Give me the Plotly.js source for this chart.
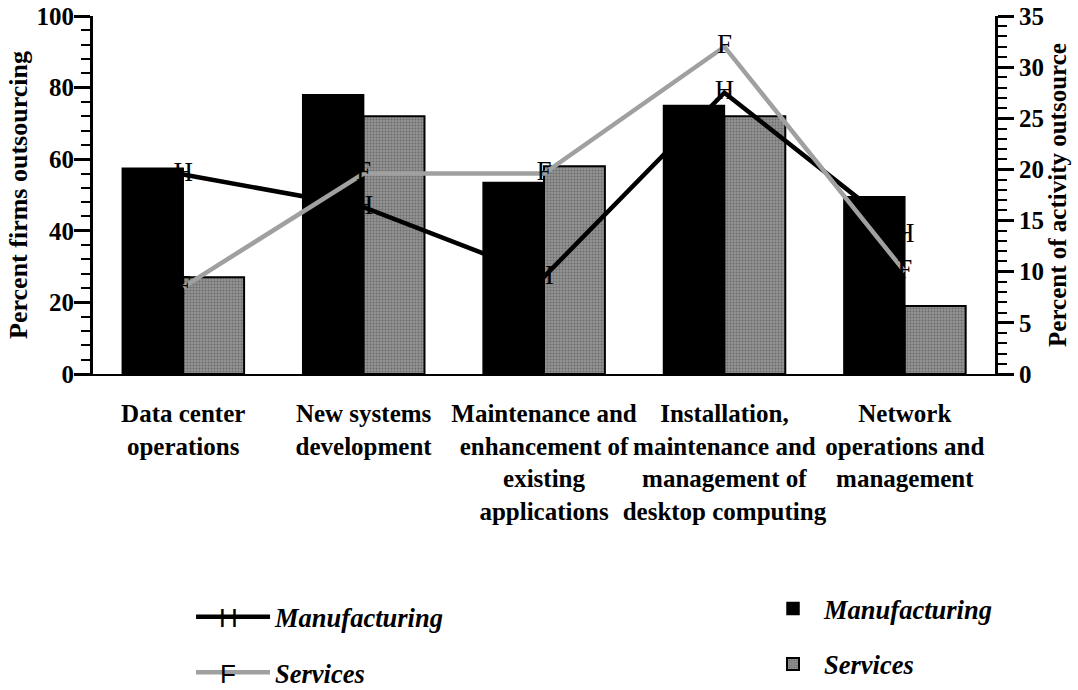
<!DOCTYPE html>
<html>
<head>
<meta charset="utf-8">
<script src="https://cdn.plot.ly/plotly-3.0.1.min.js"></script>
<style>html,body{margin:0;padding:0;background:#fff;}#chart{width:1078px;height:690px;}</style>
</head>
<body>
<div id="chart"></div>
<script>
const categories = [
  "Data center<br>operations",
  "New systems<br>development",
  "Maintenance and<br>enhancement of<br>existing<br>applications",
  "Installation,<br>maintenance and<br>management of<br>desktop computing",
  "Network<br>operations and<br>management"
];
// Percent firms outsourcing (left axis, bars)
const barManufacturing = [57.5, 78, 53.5, 75, 49.5];
const barServices = [27, 72, 58, 72, 19];
// Percent of activity outsourced (right axis, lines)
const lineManufacturing = [19.5, 16.3, 9.5, 27.5, 13.6];
const lineServices = [8.5, 19.6, 19.6, 32, 10];
const seriesNames = ["Manufacturing", "Services"];
const lineMarkerLetters = ["H", "F"];

const serif = "'Liberation Serif', 'Times New Roman', serif";
const sans = "'Liberation Sans', Arial, sans-serif";

const traces = [
  {
    type: 'bar', x: categories, y: barManufacturing, name: seriesNames[0],
    marker: {color: '#000', line: {color: '#000', width: 1.5}},
    legend: 'legend2', legendgroup: 'b1', yaxis: 'y'
  },
  {
    type: 'bar', x: categories, y: barServices, name: seriesNames[1],
    marker: {color: '#8a8a8a', line: {color: '#000', width: 2},
      pattern: {shape: '.', fgcolor: '#6c6c6c', bgcolor: '#939393', size: 3, solidity: 0.35}},
    legend: 'legend2', legendgroup: 'b2', yaxis: 'y'
  },
  {
    type: 'scatter', mode: 'lines+text', x: categories, y: lineManufacturing, name: seriesNames[0],
    text: lineManufacturing.map(() => lineMarkerLetters[0]), textposition: 'middle center',
    textfont: {family: serif, size: 27, color: '#000'},
    line: {color: '#000', width: 4.5}, yaxis: 'y2', legend: 'legend', legendgroup: 'l1', cliponaxis: false
  },
  {
    type: 'scatter', mode: 'lines+text', x: categories, y: lineServices, name: seriesNames[1],
    text: lineServices.map(() => lineMarkerLetters[1]), textposition: 'middle center',
    textfont: {family: serif, size: 27, color: '#000'},
    line: {color: '#a0a0a0', width: 4.5}, yaxis: 'y2', legend: 'legend', legendgroup: 'l2', cliponaxis: false
  }
];

const tickFont = {family: serif, size: 25, color: '#000', weight: 'bold'};
const legendFont = {family: serif, size: 26.5, color: '#000', weight: 'bold', style: 'italic'};

const layout = {
  width: 1078, height: 690,
  margin: {l: 93, r: 83, t: 16, b: 316, autoexpand: false},
  paper_bgcolor: '#fff', plot_bgcolor: '#fff',
  barmode: 'group', bargap: 0.325, bargroupgap: 0,
  xaxis: {
    showline: true, linecolor: '#000', linewidth: 2,
    ticks: '', showgrid: false, zeroline: false,
    tickfont: {family: serif, size: 25, color: '#000', weight: 'bold'},
    tickangle: 0, ticklabelstandoff: 16
  },
  yaxis: {
    range: [0, 100], dtick: 20, tick0: 0,
    showline: true, linecolor: '#000', linewidth: 3,
    ticks: 'outside', ticklen: 16, tickwidth: 3, tickcolor: '#000',
    minor: {dtick: 4, ticks: 'outside', ticklen: 9, tickwidth: 2, tickcolor: '#000'},
    showgrid: false, zeroline: false, tickfont: tickFont, ticklabelstandoff: -5,
    title: {text: 'Percent firms outsourcing', font: {family: serif, size: 26, color: '#000', weight: 'bold'}, standoff: 2}
  },
  yaxis2: {
    range: [0, 35], dtick: 5, tick0: 0, overlaying: 'y', side: 'right',
    showline: true, linecolor: '#000', linewidth: 3,
    ticks: 'outside', ticklen: 16, tickwidth: 3, tickcolor: '#000',
    minor: {dtick: 1, ticks: 'outside', ticklen: 9, tickwidth: 2, tickcolor: '#000'},
    showgrid: false, zeroline: false, tickfont: tickFont,
    title: {text: 'Percent of activity outsource', font: {family: serif, size: 25, color: '#000', weight: 'bold'}, standoff: 2}
  },
  showlegend: true,
  legend: {
    x: 0.1087, y: -0.612, xanchor: 'left', yanchor: 'top',
    font: legendFont, traceorder: 'grouped', tracegroupgap: 18,
    bgcolor: 'rgba(0,0,0,0)', itemwidth: 74
  },
  legend2: {
    x: 0.7417, y: -0.589, xanchor: 'left', yanchor: 'top',
    font: legendFont, traceorder: 'grouped', tracegroupgap: 18,
    bgcolor: 'rgba(0,0,0,0)', itemwidth: 52
  },
  annotations: [
    {xref: 'paper', yref: 'paper', x: 0.1497, y: -0.682, text: lineMarkerLetters[0], showarrow: false,
     xanchor: 'center', yanchor: 'middle', font: {family: sans, size: 26, color: '#000'}},
    {xref: 'paper', yref: 'paper', x: 0.1497, y: -0.838, text: lineMarkerLetters[1], showarrow: false,
     xanchor: 'center', yanchor: 'middle', font: {family: sans, size: 26, color: '#000'}}
  ]
};

Plotly.newPlot('chart', traces, layout, {displayModeBar: false, staticPlot: true});
</script>
</body>
</html>
